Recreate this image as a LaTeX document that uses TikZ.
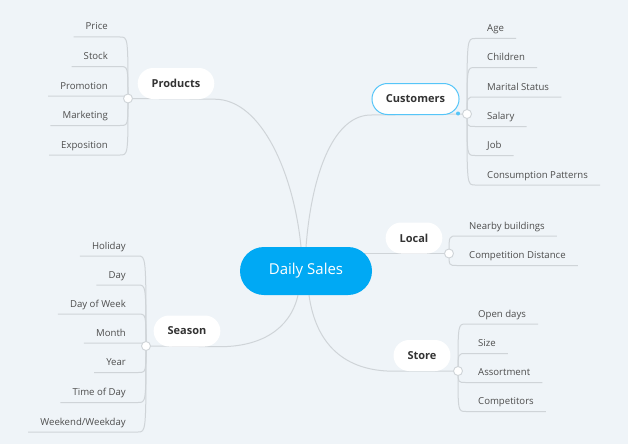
\documentclass[tikz,border=0pt]{standalone}
\usepackage{fontspec}
\setmainfont{Open Sans}
\usetikzlibrary{calc}
\pgfdeclarelayer{back}
\pgfdeclarelayer{bg}
\pgfsetlayers{back,bg,main}
\definecolor{bgc}{HTML}{EFF4F8}
\definecolor{linec}{HTML}{CFD4D8}
\definecolor{leafc}{HTML}{4D4D4D}
\definecolor{mainc}{HTML}{333333}
\definecolor{centc}{HTML}{00A9F4}
\definecolor{custc}{HTML}{55C5F8}
\tikzset{
  branch/.style={draw=linec, line width=1pt},
  leafbase/.style={inner xsep=12pt, inner ysep=1pt, text height=7pt, text depth=2pt,
    font=\fontsize{9.6}{11}\selectfont, text=leafc},
  leafL/.style={leafbase, anchor=east},
  leafR/.style={leafbase, anchor=west},
  topic/.style={fill=white, rounded corners=15.5pt, minimum height=31pt, inner xsep=14pt,
    inner ysep=0pt, font=\fontsize{11}{13}\bfseries, text=mainc},
  knob/.style={circle, fill=white, draw=linec, line width=0.9pt, minimum size=9pt, inner sep=0pt},
  central/.style={fill=centc, rounded corners=24pt, minimum width=132pt, minimum height=48pt,
    text=white, font=\fontsize{15}{18}\selectfont}
}
\newcommand{\uoff}{9.5}
\begin{document}
\begin{tikzpicture}[x=1pt,y=-1pt]
\begin{pgfonlayer}{back}
\fill[bgc] (0,0) rectangle (628,444);
\end{pgfonlayer}
\useasboundingbox (0,0) rectangle (628,444);

% central
\node[central] (ds) at (306,271) {Daily Sales};

% main topics
\node[topic] (prod) at (176,83.5) {Products};
\node[topic, draw=custc, line width=1pt] (cust) at (415.5,99) {Customers};
\node[circle, fill=custc, inner sep=0pt, minimum size=4pt] (custdot) at ($(cust.south east)+(-1.5,-1.5)$) {};
\node[topic] (loc) at (414,238) {Local};
\node[topic] (store) at (422,355.5) {Store};
\node[topic] (season) at (187,331) {Season};

% knobs
\node[knob] (pc) at (128,98.5) {};
\node[knob] (cc) at (467,114) {};
\node[knob] (lc) at (449,253.5) {};
\node[knob] (sc) at (458,371) {};
\node[knob] (sec) at (146,346) {};

% branches from centre
\begin{pgfonlayer}{bg}
\draw[branch] ($(ds.north)+(-5,0)$) .. controls (294,175) and (262,99) .. (prod.south east) -- (pc.center);
\draw[branch] (ds.north) .. controls (312,170) and (335,114.5) .. (cust.south west) -- (cc.center);
\draw[branch] (ds.center |- lc.center) -- (lc.center);
\draw[branch] ($(ds.south)+(3,0)$) .. controls (316,345) and (345,371) .. (store.south west) -- (sc.center);
\draw[branch] ($(ds.south)+(-8,0)$) .. controls (290,330) and (260,346.5) .. (season.south east) -- (sec.center);
\end{pgfonlayer}

% Products leaves
\foreach \t/\y [count=\i] in {Price/27.5,Stock/57,Promotion/86.5,Marketing/116,Exposition/145.5}{
  \node[leafL] (p\i) at (120,\y) {\t};
  \begin{pgfonlayer}{bg}
  \draw[branch] (pc.center) .. controls ($(p\i.east)+(8,\uoff)$) .. ($(p\i.east)+(0,\uoff)$) -- ($(p\i.west)+(0,\uoff)$);
  \end{pgfonlayer}
}

% Customers leaves
\foreach \t/\y [count=\i] in {Age/29,Children/58,Marital Status/87.5,Salary/117,Job/146,Consumption Patterns/175.5}{
  \node[leafR] (c\i) at (475,\y) {\t};
  \begin{pgfonlayer}{bg}
  \draw[branch] (cc.center) .. controls ($(c\i.west)+(-8,\uoff)$) .. ($(c\i.west)+(0,\uoff)$) -- ($(c\i.east)+(0,\uoff)$);
  \end{pgfonlayer}
}

% Local leaves
\foreach \t/\y [count=\i] in {Nearby buildings/226.5,Competition Distance/256}{
  \node[leafR] (l\i) at (457,\y) {\t};
  \begin{pgfonlayer}{bg}
  \draw[branch] (lc.center) .. controls ($(l\i.west)+(-8,\uoff)$) .. ($(l\i.west)+(0,\uoff)$) -- ($(l\i.east)+(0,\uoff)$);
  \end{pgfonlayer}
}

% Store leaves
\foreach \t/\y [count=\i] in {Open days/314.5,Size/344,Assortment/373,Competitors/402}{
  \node[leafR] (s\i) at (466,\y) {\t};
  \begin{pgfonlayer}{bg}
  \draw[branch] (sc.center) .. controls ($(s\i.west)+(-8,\uoff)$) .. ($(s\i.west)+(0,\uoff)$) -- ($(s\i.east)+(0,\uoff)$);
  \end{pgfonlayer}
}

% Season leaves
\foreach \t/\y [count=\i] in {Holiday/246.5,Day/275.5,Day of Week/304.5,Month/333.5,Year/363,Time of Day/393,{Weekend/Weekday}/422.5}{
  \node[leafL] (e\i) at (138,\y) {\t};
  \begin{pgfonlayer}{bg}
  \draw[branch] (sec.center) .. controls ($(e\i.east)+(8,\uoff)$) .. ($(e\i.east)+(0,\uoff)$) -- ($(e\i.west)+(0,\uoff)$);
  \end{pgfonlayer}
}
\end{tikzpicture}
\end{document}
